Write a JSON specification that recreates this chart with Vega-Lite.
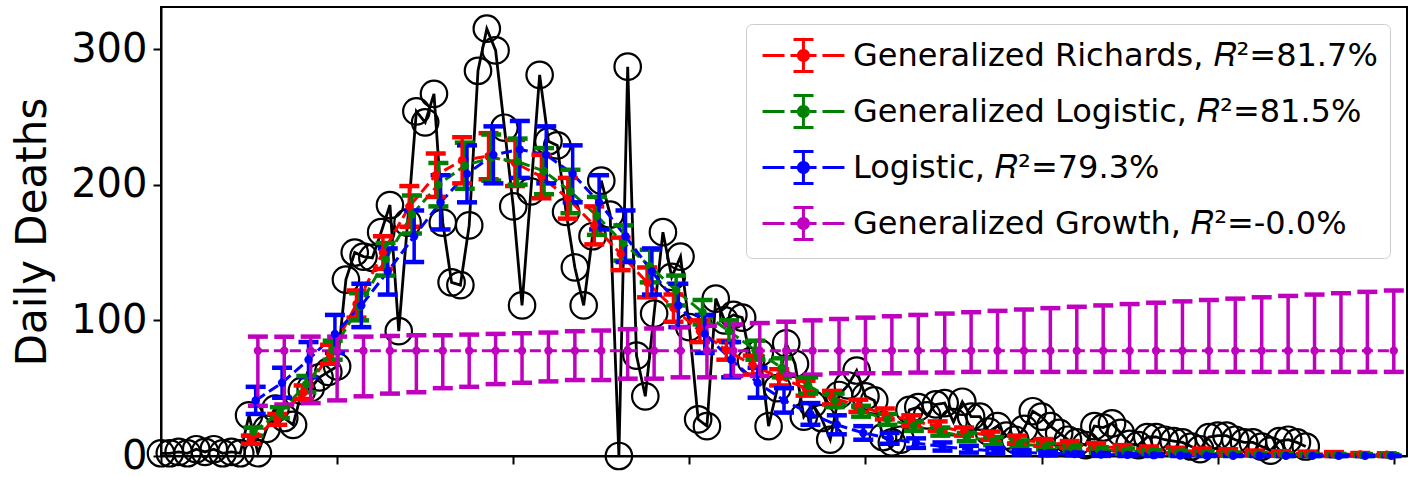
{
"$schema": "https://vega.github.io/schema/vega-lite/v6.json",
"width": 1246, "height": 449,
"autosize": {"type": "none"},
"padding": {"left": 161, "top": 7, "right": 8, "bottom": 21},
"background": "white",
"config": {
 "view": {"stroke": "black", "strokeWidth": 2},
 "font": "DejaVu Sans",
 "axis": {"grid": false, "domainColor": "black", "domainWidth": 2, "tickColor": "black", "tickWidth": 2, "tickSize": 8, "labelFont": "DejaVu Sans", "labelFontSize": 40, "labelColor": "black", "titleFont": "DejaVu Sans", "titleFontSize": 42, "titleFontWeight": "normal", "titleColor": "black"},
 "legend": {"orient": "top-right", "offset": 17, "padding": 12, "fillColor": "rgba(255,255,255,0.85)", "strokeColor": "#cccccc", "cornerRadius": 6, "labelFontSize": 32, "labelFont": "DejaVu Sans", "labelColor": "black", "labelLimit": 1000, "symbolSize": 1296, "symbolStrokeWidth": 3, "labelOffset": 56, "rowPadding": 11}
},
"datasets": {
 "obs": [
{"d":0,"v":2},{"d":1,"v":2},{"d":2,"v":3},{"d":3,"v":2},{"d":4,"v":5},{"d":5,"v":3},{"d":6,"v":5},{"d":7,"v":2},{"d":8,"v":3},{"d":9,"v":2},
{"d":10,"v":30},{"d":11,"v":2},{"d":12,"v":20},{"d":13,"v":35},{"d":14,"v":28},{"d":15,"v":23},{"d":16,"v":48},{"d":17,"v":50},{"d":18,"v":58},{"d":19,"v":62},
{"d":20,"v":66},{"d":21,"v":130},{"d":22,"v":150},{"d":23,"v":147},{"d":24,"v":146},{"d":25,"v":165},{"d":26,"v":185},{"d":27,"v":92},{"d":28,"v":172},{"d":29,"v":254},
{"d":30,"v":246},{"d":31,"v":267},{"d":32,"v":172},{"d":33,"v":128},{"d":34,"v":126},{"d":35,"v":170},{"d":36,"v":284},{"d":37,"v":315},{"d":38,"v":299},{"d":39,"v":242},
{"d":40,"v":184},{"d":41,"v":111},{"d":42,"v":195},{"d":43,"v":281},{"d":44,"v":232},{"d":45,"v":229},{"d":46,"v":180},{"d":47,"v":139},{"d":48,"v":111},{"d":49,"v":162},
{"d":50,"v":203},{"d":51,"v":178},{"d":52,"v":0},{"d":53,"v":287},{"d":54,"v":74},{"d":55,"v":44},{"d":56,"v":105},{"d":57,"v":165},{"d":58,"v":132},{"d":59,"v":147},
{"d":60,"v":95},{"d":61,"v":27},{"d":62,"v":22},{"d":63,"v":116},{"d":64,"v":100},{"d":65,"v":104},{"d":66,"v":102},{"d":67,"v":70},{"d":68,"v":76},{"d":69,"v":22},
{"d":70,"v":50},{"d":71,"v":83},{"d":72,"v":68},{"d":73,"v":29},{"d":74,"v":38},{"d":75,"v":28},{"d":76,"v":12},{"d":77,"v":45},{"d":78,"v":52},{"d":79,"v":63},
{"d":80,"v":44},{"d":81,"v":41},{"d":82,"v":14},{"d":83,"v":10},{"d":84,"v":12},{"d":85,"v":34},{"d":86,"v":36},{"d":87,"v":30},{"d":88,"v":38},{"d":89,"v":39},
{"d":90,"v":25},{"d":91,"v":40},{"d":92,"v":29},{"d":93,"v":29},{"d":94,"v":18},{"d":95,"v":22},{"d":96,"v":15},{"d":97,"v":12},{"d":98,"v":20},{"d":99,"v":33},
{"d":100,"v":29},{"d":101,"v":22},{"d":102,"v":17},{"d":103,"v":12},{"d":104,"v":10},{"d":105,"v":8},{"d":106,"v":22},{"d":107,"v":21},{"d":108,"v":24},{"d":109,"v":17},
{"d":110,"v":9},{"d":111,"v":8},{"d":112,"v":14},{"d":113,"v":14},{"d":114,"v":12},{"d":115,"v":11},{"d":116,"v":10},{"d":117,"v":7},{"d":118,"v":5},{"d":119,"v":14},
{"d":120,"v":15},{"d":121,"v":15},{"d":122,"v":12},{"d":123,"v":10},{"d":124,"v":10},{"d":125,"v":7},{"d":126,"v":4},{"d":127,"v":11},{"d":128,"v":12},{"d":129,"v":10},
{"d":130,"v":7}
 ],
 "fits": [
{"s":"GRM","d":10.2,"v":12,"lo":9,"hi":15},{"s":"GRM","d":13.2,"v":27,"lo":23,"hi":31},{"s":"GRM","d":16.2,"v":47,"lo":42,"hi":52},{"s":"GRM","d":19.2,"v":75,"lo":68,"hi":82},
{"s":"GRM","d":22.2,"v":112,"lo":102,"hi":122},{"s":"GRM","d":25.2,"v":150,"lo":138,"hi":162},{"s":"GRM","d":28.2,"v":184,"lo":169,"hi":199},{"s":"GRM","d":31.2,"v":207,"lo":191,"hi":223},
{"s":"GRM","d":34.2,"v":218,"lo":201,"hi":235},{"s":"GRM","d":37.2,"v":221,"lo":204,"hi":238},{"s":"GRM","d":40.2,"v":216,"lo":199,"hi":233},{"s":"GRM","d":43.2,"v":206,"lo":190,"hi":222},
{"s":"GRM","d":46.2,"v":190,"lo":175,"hi":205},{"s":"GRM","d":49.2,"v":170,"lo":156,"hi":184},{"s":"GRM","d":52.2,"v":149,"lo":137,"hi":161},{"s":"GRM","d":55.2,"v":128,"lo":117,"hi":139},
{"s":"GRM","d":58.2,"v":109,"lo":99,"hi":119},{"s":"GRM","d":61.2,"v":92,"lo":84,"hi":100},{"s":"GRM","d":64.2,"v":78,"lo":71,"hi":85},{"s":"GRM","d":67.2,"v":67,"lo":60,"hi":74},
{"s":"GRM","d":70.2,"v":58,"lo":52,"hi":64},{"s":"GRM","d":73.2,"v":50,"lo":44.5,"hi":55.5},{"s":"GRM","d":76.2,"v":43,"lo":38,"hi":48},{"s":"GRM","d":79.2,"v":37,"lo":32.5,"hi":41.5},
{"s":"GRM","d":82.2,"v":31,"lo":27,"hi":35},{"s":"GRM","d":85.2,"v":26,"lo":22,"hi":30},{"s":"GRM","d":88.2,"v":22,"lo":18.5,"hi":25.5},{"s":"GRM","d":91.2,"v":18,"lo":15,"hi":21},
{"s":"GRM","d":94.2,"v":15,"lo":12,"hi":18},{"s":"GRM","d":97.2,"v":12,"lo":9,"hi":15},{"s":"GRM","d":100.2,"v":10,"lo":7.5,"hi":12.5},{"s":"GRM","d":103.2,"v":8.5,"lo":6,"hi":11},
{"s":"GRM","d":106.2,"v":7,"lo":4.5,"hi":9.5},{"s":"GRM","d":109.2,"v":6,"lo":4,"hi":8},{"s":"GRM","d":112.2,"v":5,"lo":3,"hi":7},{"s":"GRM","d":115.2,"v":4,"lo":2,"hi":6},
{"s":"GRM","d":118.2,"v":3.5,"lo":1.5,"hi":5.5},{"s":"GRM","d":121.2,"v":3,"lo":1,"hi":5},{"s":"GRM","d":124.2,"v":2.5,"lo":1,"hi":4},{"s":"GRM","d":127.2,"v":2,"lo":0.5,"hi":3.5},
{"s":"GRM","d":130.2,"v":1.7,"lo":0.2,"hi":3.2},{"s":"GRM","d":133.2,"v":1.4,"lo":0,"hi":2.9},{"s":"GRM","d":136.2,"v":1.2,"lo":0.2,"hi":2.2},{"s":"GRM","d":139.2,"v":1,"lo":0,"hi":2},
{"s":"GLM","d":10.5,"v":18,"lo":15,"hi":21},{"s":"GLM","d":13.5,"v":32,"lo":28,"hi":36},{"s":"GLM","d":16.5,"v":53,"lo":47,"hi":59},{"s":"GLM","d":19.5,"v":78,"lo":71,"hi":85},
{"s":"GLM","d":22.5,"v":110,"lo":100,"hi":120},{"s":"GLM","d":25.5,"v":145,"lo":133,"hi":157},{"s":"GLM","d":28.5,"v":178,"lo":164,"hi":192},{"s":"GLM","d":31.5,"v":200,"lo":184,"hi":216},
{"s":"GLM","d":34.5,"v":214,"lo":197,"hi":231},{"s":"GLM","d":37.5,"v":220,"lo":203,"hi":237},{"s":"GLM","d":40.5,"v":217,"lo":200,"hi":234},{"s":"GLM","d":43.5,"v":210,"lo":193,"hi":227},
{"s":"GLM","d":46.5,"v":195,"lo":179,"hi":211},{"s":"GLM","d":49.5,"v":177,"lo":163,"hi":191},{"s":"GLM","d":52.5,"v":157,"lo":144,"hi":170},{"s":"GLM","d":55.5,"v":140,"lo":128,"hi":152},
{"s":"GLM","d":58.5,"v":122,"lo":111,"hi":133},{"s":"GLM","d":61.5,"v":106,"lo":97,"hi":115},{"s":"GLM","d":64.5,"v":92,"lo":84,"hi":100},{"s":"GLM","d":67.5,"v":78,"lo":71,"hi":85},
{"s":"GLM","d":70.5,"v":65,"lo":58,"hi":72},{"s":"GLM","d":73.5,"v":52,"lo":46,"hi":58},{"s":"GLM","d":76.5,"v":41,"lo":36,"hi":46},{"s":"GLM","d":79.5,"v":33,"lo":29,"hi":37},
{"s":"GLM","d":82.5,"v":27,"lo":23,"hi":31},{"s":"GLM","d":85.5,"v":22,"lo":18.5,"hi":25.5},{"s":"GLM","d":88.5,"v":18,"lo":15,"hi":21},{"s":"GLM","d":91.5,"v":14,"lo":11,"hi":17},
{"s":"GLM","d":94.5,"v":11,"lo":8,"hi":14},{"s":"GLM","d":97.5,"v":9,"lo":6.5,"hi":11.5},{"s":"GLM","d":100.5,"v":7,"lo":4.5,"hi":9.5},{"s":"GLM","d":103.5,"v":6,"lo":4,"hi":8},
{"s":"GLM","d":106.5,"v":4.5,"lo":2.5,"hi":6.5},{"s":"GLM","d":109.5,"v":3.5,"lo":1.5,"hi":5.5},{"s":"GLM","d":112.5,"v":3,"lo":1.5,"hi":4.5},{"s":"GLM","d":115.5,"v":2.5,"lo":1,"hi":4},
{"s":"GLM","d":118.5,"v":2,"lo":0.5,"hi":3.5},{"s":"GLM","d":121.5,"v":1.5,"lo":0.5,"hi":2.5},{"s":"GLM","d":124.5,"v":1.2,"lo":0.2,"hi":2.2},{"s":"GLM","d":127.5,"v":1,"lo":0,"hi":2},
{"s":"GLM","d":130.5,"v":0.8,"lo":0,"hi":1.8},{"s":"GLM","d":133.5,"v":0.7,"lo":0,"hi":1.5},{"s":"GLM","d":136.5,"v":0.6,"lo":0,"hi":1.4},{"s":"GLM","d":139.5,"v":0.5,"lo":0,"hi":1.3},
{"s":"LM","d":10.75,"v":41,"lo":31,"hi":51},{"s":"LM","d":13.75,"v":54,"lo":43,"hi":65},{"s":"LM","d":16.75,"v":71,"lo":58,"hi":84},{"s":"LM","d":19.75,"v":90,"lo":76,"hi":104},
{"s":"LM","d":22.75,"v":111,"lo":95,"hi":127},{"s":"LM","d":25.75,"v":136,"lo":119,"hi":153},{"s":"LM","d":28.75,"v":162,"lo":143,"hi":181},{"s":"LM","d":31.75,"v":187,"lo":167,"hi":207},
{"s":"LM","d":34.75,"v":208,"lo":187,"hi":229},{"s":"LM","d":37.75,"v":222,"lo":201,"hi":243},{"s":"LM","d":40.75,"v":226,"lo":205,"hi":247},{"s":"LM","d":43.75,"v":222,"lo":201,"hi":243},
{"s":"LM","d":46.75,"v":208,"lo":187,"hi":229},{"s":"LM","d":49.75,"v":187,"lo":167,"hi":207},{"s":"LM","d":52.75,"v":162,"lo":143,"hi":181},{"s":"LM","d":55.75,"v":136,"lo":119,"hi":153},
{"s":"LM","d":58.75,"v":111,"lo":95,"hi":127},{"s":"LM","d":61.75,"v":90,"lo":76,"hi":104},{"s":"LM","d":64.75,"v":71,"lo":58,"hi":84},{"s":"LM","d":67.75,"v":54,"lo":43,"hi":65},
{"s":"LM","d":70.75,"v":41,"lo":32,"hi":50},{"s":"LM","d":73.75,"v":31,"lo":23,"hi":39},{"s":"LM","d":76.75,"v":23,"lo":16,"hi":30},{"s":"LM","d":79.75,"v":17,"lo":12,"hi":22},
{"s":"LM","d":82.75,"v":13,"lo":9,"hi":17},{"s":"LM","d":85.75,"v":9.5,"lo":6,"hi":13},{"s":"LM","d":88.75,"v":7,"lo":4,"hi":10},{"s":"LM","d":91.75,"v":5,"lo":2.5,"hi":7.5},
{"s":"LM","d":94.75,"v":3.7,"lo":1.7,"hi":5.7},{"s":"LM","d":97.75,"v":2.7,"lo":1.2,"hi":4.2},{"s":"LM","d":100.75,"v":2,"lo":0.5,"hi":3.5},{"s":"LM","d":103.75,"v":1.5,"lo":0.5,"hi":2.5},
{"s":"LM","d":106.75,"v":1.1,"lo":0.1,"hi":2.1},{"s":"LM","d":109.75,"v":0.8,"lo":0,"hi":1.6},{"s":"LM","d":112.75,"v":0.6,"lo":0,"hi":1.2},{"s":"LM","d":115.75,"v":0.4,"lo":0,"hi":0.9},
{"s":"LM","d":118.75,"v":0.3,"lo":0,"hi":0.7},{"s":"LM","d":121.75,"v":0.2,"lo":0,"hi":0.5},{"s":"LM","d":124.75,"v":0.2,"lo":0,"hi":0.5},{"s":"LM","d":127.75,"v":0.1,"lo":0,"hi":0.3},
{"s":"LM","d":130.75,"v":0.1,"lo":0,"hi":0.3},{"s":"LM","d":133.75,"v":0.1,"lo":0,"hi":0.2},{"s":"LM","d":136.75,"v":0.1,"lo":0,"hi":0.2},{"s":"LM","d":139.75,"v":0.1,"lo":0,"hi":0.2},
{"s":"GGM","d":11,"v":77.6,"lo":37,"hi":88},{"s":"GGM","d":14,"v":77.6,"lo":38,"hi":88},{"s":"GGM","d":17,"v":77.6,"lo":39,"hi":88},{"s":"GGM","d":20,"v":77.6,"lo":41,"hi":88},
{"s":"GGM","d":23,"v":77.6,"lo":44,"hi":88},{"s":"GGM","d":26,"v":77.6,"lo":46,"hi":88.5},{"s":"GGM","d":29,"v":77.6,"lo":47,"hi":89},{"s":"GGM","d":32,"v":77.6,"lo":50,"hi":89},
{"s":"GGM","d":35,"v":77.6,"lo":51,"hi":89.5},{"s":"GGM","d":38,"v":77.6,"lo":53,"hi":90},{"s":"GGM","d":41,"v":77.6,"lo":54,"hi":90.5},{"s":"GGM","d":44,"v":77.6,"lo":55,"hi":91},
{"s":"GGM","d":47,"v":77.6,"lo":56,"hi":92},{"s":"GGM","d":50,"v":77.6,"lo":56,"hi":92.5},{"s":"GGM","d":53,"v":77.6,"lo":57,"hi":93.5},{"s":"GGM","d":56,"v":77.6,"lo":57,"hi":94},
{"s":"GGM","d":59,"v":77.6,"lo":58,"hi":95},{"s":"GGM","d":62,"v":77.6,"lo":58,"hi":96},{"s":"GGM","d":65,"v":77.6,"lo":59,"hi":97},{"s":"GGM","d":68,"v":77.6,"lo":59,"hi":98},
{"s":"GGM","d":71,"v":77.6,"lo":60,"hi":99},{"s":"GGM","d":74,"v":77.6,"lo":60,"hi":100},{"s":"GGM","d":77,"v":77.6,"lo":61,"hi":101},{"s":"GGM","d":80,"v":77.6,"lo":61,"hi":102},
{"s":"GGM","d":83,"v":77.6,"lo":61,"hi":103},{"s":"GGM","d":86,"v":77.6,"lo":61.5,"hi":104},{"s":"GGM","d":89,"v":77.6,"lo":61.5,"hi":105},{"s":"GGM","d":92,"v":77.6,"lo":62,"hi":106},
{"s":"GGM","d":95,"v":77.6,"lo":62,"hi":107},{"s":"GGM","d":98,"v":77.6,"lo":62,"hi":108},{"s":"GGM","d":101,"v":77.6,"lo":62,"hi":109},{"s":"GGM","d":104,"v":77.6,"lo":62,"hi":110},
{"s":"GGM","d":107,"v":77.6,"lo":62,"hi":111},{"s":"GGM","d":110,"v":77.6,"lo":62,"hi":112},{"s":"GGM","d":113,"v":77.6,"lo":62,"hi":113},{"s":"GGM","d":116,"v":77.6,"lo":62,"hi":114},
{"s":"GGM","d":119,"v":77.6,"lo":62,"hi":115},{"s":"GGM","d":122,"v":77.6,"lo":62,"hi":116},{"s":"GGM","d":125,"v":77.6,"lo":62,"hi":117},{"s":"GGM","d":128,"v":77.6,"lo":62,"hi":118},
{"s":"GGM","d":131,"v":77.6,"lo":62,"hi":119},{"s":"GGM","d":134,"v":77.6,"lo":62,"hi":120},{"s":"GGM","d":137,"v":77.6,"lo":62,"hi":121},{"s":"GGM","d":140,"v":77.6,"lo":62,"hi":122}
 ]
},
"layer": [
 {"data": {"name": "obs"}, "mark": {"type": "line", "color": "black", "strokeWidth": 2.8},
  "encoding": {
   "x": {"field": "d", "type": "quantitative", "title": null, "scale": {"domain": [0, 141.5], "nice": false, "zero": false}, "axis": {"values": [0,20,40,60,80,100,120,140], "labels": false}},
   "y": {"field": "v", "type": "quantitative", "title": "Daily Deaths", "scale": {"domain": [0, 331], "nice": false}, "axis": {"values": [0,100,200,300], "labelPadding": 6, "titlePadding": 16}}
  }},
 {"data": {"name": "obs"}, "mark": {"type": "point", "shape": "circle", "size": 700, "filled": false, "stroke": "black", "strokeWidth": 2.2, "opacity": 1},
  "encoding": {"x": {"field": "d", "type": "quantitative", "title": null}, "y": {"field": "v", "type": "quantitative", "title": "Daily Deaths"}}},
 {"data": {"name": "fits"}, "mark": {"type": "line", "strokeWidth": 3, "strokeDash": [11, 5]},
  "encoding": {
   "x": {"field": "d", "type": "quantitative", "title": null},
   "y": {"field": "v", "type": "quantitative", "title": "Daily Deaths"},
   "color": {"field": "s", "type": "nominal", "scale": {"domain": ["GRM","GLM","LM","GGM"], "range": ["#ff0000","#008000","#0000ff","#bf00bf"]},
    "legend": {"title": null, "symbolType": "M-0.83,0H0.39M0.72,0H2.17M2.5,0H3.72M1.44,-0.89V0.89M0.89,-0.89H2M0.89,0.89H2M1.72,0A0.28,0.28,0,1,1,1.16,0A0.28,0.28,0,1,1,1.72,0Z",
     "labelExpr": "datum.value == 'GRM' ? 'Generalized Richards, 𝑅²=81.7%' : datum.value == 'GLM' ? 'Generalized Logistic, 𝑅²=81.5%' : datum.value == 'LM' ? 'Logistic, 𝑅²=79.3%' : 'Generalized Growth, 𝑅²=-0.0%'",
     "encode": {"symbols": {"update": {"fill": {"scale": "color", "field": "value"}, "stroke": {"scale": "color", "field": "value"}, "strokeDash": {"value": [1, 0]}, "opacity": {"value": 1}}}}}}
  }},
 {"data": {"name": "fits"}, "mark": {"type": "errorbar", "thickness": 3.5, "ticks": {"size": 20, "thickness": 4.5, "opacity": 1}, "rule": {"strokeWidth": 3.5}},
  "encoding": {
   "x": {"field": "d", "type": "quantitative", "title": null},
   "y": {"field": "lo", "type": "quantitative", "title": "Daily Deaths"},
   "y2": {"field": "hi"},
   "color": {"field": "s", "type": "nominal",
    "legend": {"title": null, "symbolType": "M-0.83,0H0.39M0.72,0H2.17M2.5,0H3.72M1.44,-0.89V0.89M0.89,-0.89H2M0.89,0.89H2M1.72,0A0.28,0.28,0,1,1,1.16,0A0.28,0.28,0,1,1,1.72,0Z",
     "labelExpr": "datum.value == 'GRM' ? 'Generalized Richards, 𝑅²=81.7%' : datum.value == 'GLM' ? 'Generalized Logistic, 𝑅²=81.5%' : datum.value == 'LM' ? 'Logistic, 𝑅²=79.3%' : 'Generalized Growth, 𝑅²=-0.0%'",
     "encode": {"symbols": {"update": {"fill": {"scale": "color", "field": "value"}, "stroke": {"scale": "color", "field": "value"}, "strokeDash": {"value": [1, 0]}, "opacity": {"value": 1}}}}}}
  }},
 {"data": {"name": "fits"}, "mark": {"type": "point", "shape": "circle", "filled": true, "size": 70, "opacity": 1},
  "encoding": {
   "x": {"field": "d", "type": "quantitative", "title": null},
   "y": {"field": "v", "type": "quantitative", "title": "Daily Deaths"},
   "color": {"field": "s", "type": "nominal",
    "legend": {"title": null, "symbolType": "M-0.83,0H0.39M0.72,0H2.17M2.5,0H3.72M1.44,-0.89V0.89M0.89,-0.89H2M0.89,0.89H2M1.72,0A0.28,0.28,0,1,1,1.16,0A0.28,0.28,0,1,1,1.72,0Z",
     "labelExpr": "datum.value == 'GRM' ? 'Generalized Richards, 𝑅²=81.7%' : datum.value == 'GLM' ? 'Generalized Logistic, 𝑅²=81.5%' : datum.value == 'LM' ? 'Logistic, 𝑅²=79.3%' : 'Generalized Growth, 𝑅²=-0.0%'",
     "encode": {"symbols": {"update": {"fill": {"scale": "color", "field": "value"}, "stroke": {"scale": "color", "field": "value"}, "strokeDash": {"value": [1, 0]}, "opacity": {"value": 1}}}}}}
  }}
]
}
